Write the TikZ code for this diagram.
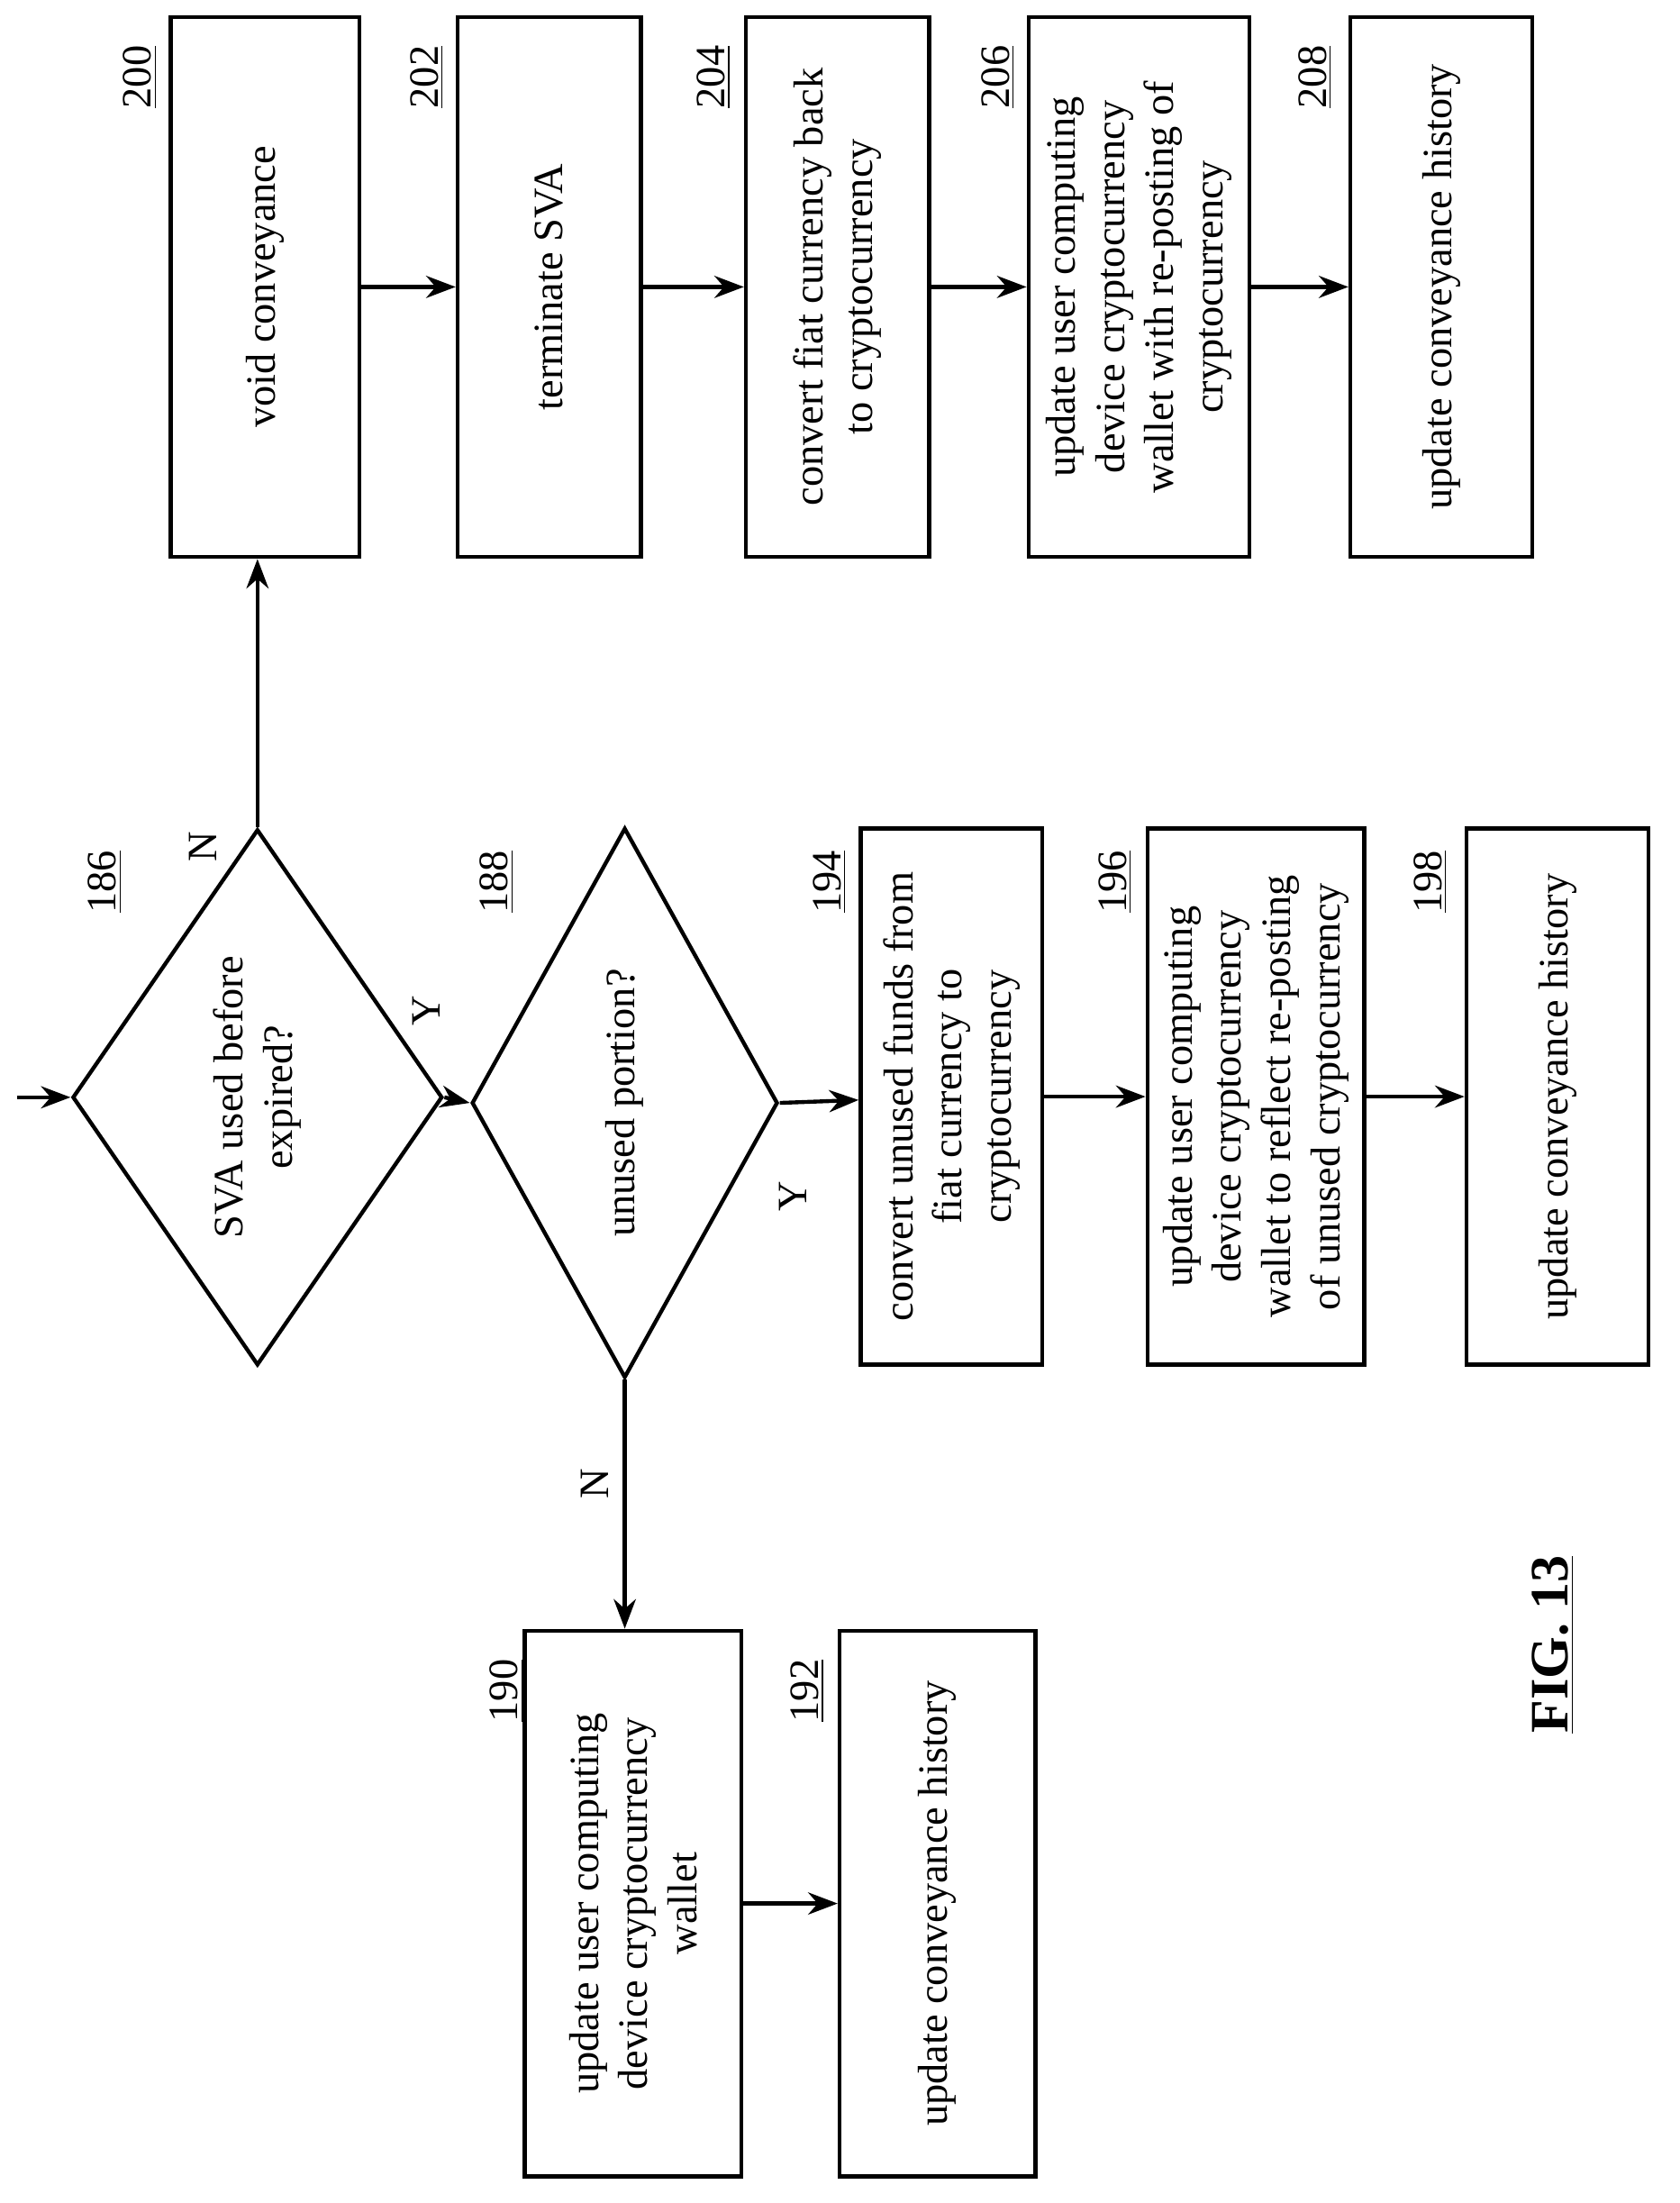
\documentclass[tikz,border=0pt]{standalone}
\usepackage{fontspec}
\setmainfont{Liberation Serif}
\usetikzlibrary{shapes.geometric,arrows.meta}
\tikzset{
  box/.style   = {draw, line width=1.6pt, rotate=90, align=center, inner sep=2pt,
                  font=\fontsize{17}{20}\selectfont},
  dec/.style   = {draw, diamond, line width=1.6pt, rotate=90, align=center, inner sep=0pt,
                  font=\fontsize{17}{20}\selectfont},
  ref/.style   = {rotate=90, font=\fontsize{17}{20}\selectfont},
  yn/.style    = {rotate=90, font=\fontsize{17}{20}\selectfont},
  arrow/.style = {line width=1.6pt, -{Stealth[length=12pt,width=9pt]}}
}
\begin{document}
\begin{tikzpicture}[x=0.02cm,y=-0.02cm]
  \useasboundingbox (0,0) rectangle (1200,1574);

  % upper row
  \node[box, minimum width=7.72cm, minimum height=2.7cm]  (b200) at (189.5,205) {void conveyance};
  \node[box, minimum width=7.72cm, minimum height=2.62cm] (b202) at (392.5,205) {terminate SVA};
  \node[box, minimum width=7.72cm, minimum height=2.62cm] (b204) at (598.5,205) {convert fiat currency back\\to cryptocurrency};
  \node[box, minimum width=7.72cm, minimum height=3.16cm] (b206) at (814,205) {update user computing\\device cryptocurrency\\wallet with re-posting of\\cryptocurrency};
  \node[box, minimum width=7.72cm, minimum height=2.6cm]  (b208) at (1030,205) {update conveyance history};

  % decisions
  \node[dec, minimum width=7.66cm, minimum height=3.84cm] (d186) at (184,784) {SVA used before\\expired?};
  \node[dec, minimum width=7.86cm, minimum height=3.86cm] (d188) at (446.5,788) {unused portion?};

  % middle row
  \node[box, minimum width=7.66cm, minimum height=2.6cm]  (b194) at (680,783.5) {convert unused funds from\\fiat currency to\\cryptocurrency};
  \node[box, minimum width=7.66cm, minimum height=3.1cm]  (b196) at (897.5,783.5) {update user computing\\device cryptocurrency\\wallet to reflect re-posting\\of unused cryptocurrency};
  \node[box, minimum width=7.66cm, minimum height=2.6cm]  (b198) at (1113,783.5) {update conveyance history};

  % lower row
  \node[box, minimum width=7.8cm, minimum height=3.1cm]   (b190) at (452.5,1360) {update user computing\\device cryptocurrency\\wallet};
  \node[box, minimum width=7.8cm, minimum height=2.8cm]   (b192) at (670,1360) {update conveyance history};

  % reference numbers
  \node[ref] (r200) at (100,55)   {\underline{200}};
  \node[ref] (r202) at (305,55)   {\underline{202}};
  \node[ref] (r204) at (510,55)   {\underline{204}};
  \node[ref] (r206) at (713,55)   {\underline{206}};
  \node[ref] (r208) at (940,55)   {\underline{208}};
  \node[ref] (r186) at (75,630)   {\underline{186}};
  \node[ref] (r188) at (355,630)  {\underline{188}};
  \node[ref] (r194) at (593,630)  {\underline{194}};
  \node[ref] (r196) at (797,630)  {\underline{196}};
  \node[ref] (r198) at (1022,630) {\underline{198}};
  \node[ref] (r190) at (362,1208) {\underline{190}};
  \node[ref] (r192) at (577,1208) {\underline{192}};

  % branch labels
  \node[yn] (n186) at (145,605)  {N};
  \node[yn] (y186) at (305,722)  {Y};
  \node[yn] (y188) at (567,855)  {Y};
  \node[yn] (n188) at (425,1060) {N};

  % connectors
  \coordinate (start) at (12,784);
  \draw[arrow] (start) -- (d186.north);
  \draw[arrow] (d186.east) -- (d186.east |- b200.west);
  \draw[arrow] (d186.south) -- (d188.north);
  \draw[arrow] (d188.south) -- (b194);
  \draw[arrow] (d188.west) -- (d188.west |- b190.east);
  \draw[arrow] (b200) -- (b202);
  \draw[arrow] (b202) -- (b204);
  \draw[arrow] (b204) -- (b206);
  \draw[arrow] (b206) -- (b208);
  \draw[arrow] (b194) -- (b196);
  \draw[arrow] (b196) -- (b198);
  \draw[arrow] (b190) -- (b192);

  \node[rotate=90, font=\fontsize{22}{26}\selectfont\bfseries] (fig) at (1110,1175) {\underline{FIG. 13}};
\end{tikzpicture}
\end{document}
